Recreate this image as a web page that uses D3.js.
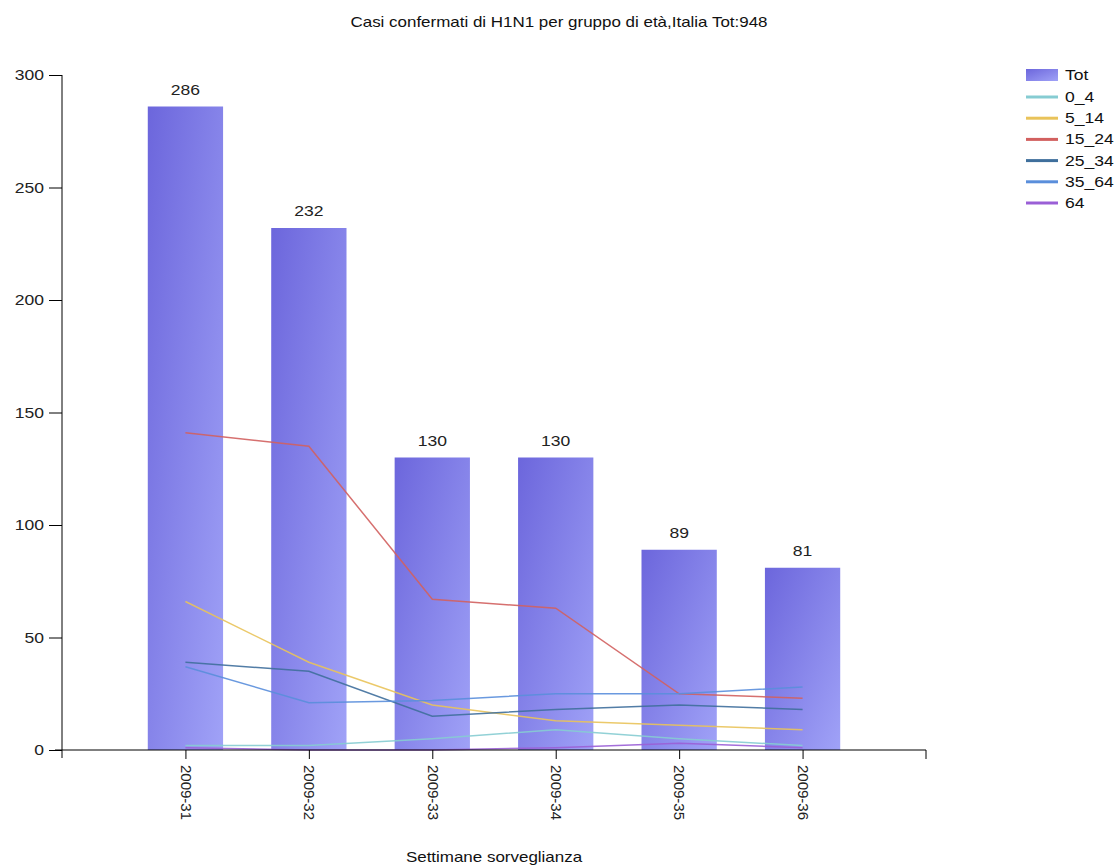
<!DOCTYPE html>
<html><head><meta charset="utf-8">
<script src="https://cdn.jsdelivr.net/npm/d3@7/dist/d3.min.js"></script>
<style>body{margin:0;background:#fff}svg{display:block;font-family:"Liberation Sans",Arial,sans-serif}</style>
</head><body>
<script>
const categories = ["2009-31","2009-32","2009-33","2009-34","2009-35","2009-36"];
const tot    = [286, 232, 130, 130, 89, 81];
const s0_4   = [2, 2, 5, 9, 5, 2];
const s5_14  = [66, 39, 20, 13, 11, 9];
const s15_24 = [141, 135, 67, 63, 25, 23];
const s25_34 = [39, 35, 15, 18, 20, 18];
const s35_64 = [37, 21, 22, 25, 25, 28];
const s64    = [1, 0, 0, 1, 3, 1];
const yTicks = [0, 50, 100, 150, 200, 250, 300];
const seriesNames = ["0_4","5_14","15_24","25_34","35_64","64"];
const seriesValues = [s0_4, s5_14, s15_24, s25_34, s35_64, s64];
const seriesColors = ["#86ccd2","#e9c35a","#d2605f","#3f6f9c","#5a8edb","#9a5fd6"];

const W = 1118, H = 867, SX = 1.17;
const svg = d3.select("body").append("svg").attr("width", W).attr("height", H);
const defs = svg.append("defs");
const grad = defs.append("linearGradient").attr("id","barGrad")
  .attr("x1",0).attr("y1",0).attr("x2",1).attr("y2",1);
grad.append("stop").attr("offset","0%").attr("stop-color","#6c66dc");
grad.append("stop").attr("offset","100%").attr("stop-color","#a0a2f7");

// horizontally stretched text helper
function stext(parent, tx, ty, str, size, anchor, fill) {
  const g = parent.append("g").attr("transform", `translate(${tx},${ty}) scale(${SX},1)`);
  g.append("text").attr("x",0).attr("y",0).attr("text-anchor", anchor || "start")
    .attr("font-size", size).attr("fill", fill || "#111").text(str);
  return g;
}

const x0 = 62, x1 = 926, yTop = 75, yBot = 750;
const x = d3.scalePoint().domain(categories).range([x0, x1]).padding(1);
const y = d3.scaleLinear().domain([0, 300]).range([yBot, yTop]);
const barW = x.step() * 0.61;

stext(svg, 559, 27, "Casi confermati di H1N1 per gruppo di età,Italia Tot:948", 14.5, "middle");

// bars
svg.append("g").selectAll("rect").data(categories).join("rect")
  .attr("x", d => x(d) - barW/2).attr("width", barW)
  .attr("y", (d,i) => y(tot[i])).attr("height", (d,i) => y(0) - y(tot[i]))
  .attr("fill","url(#barGrad)");
const vl = svg.append("g");
categories.forEach((c,i) => stext(vl, x(c), y(tot[i]) - 12, tot[i], 15, "middle", "#222"));

// lines
const line = d3.line().x((v,i) => x(categories[i])).y(v => y(v));
svg.append("g").selectAll("path").data(seriesValues).join("path")
  .attr("d", d => line(d)).attr("fill","none")
  .attr("stroke", (d,i) => seriesColors[i]).attr("stroke-width", 1.5)
  .attr("stroke-opacity", 0.9);

// y axis
const yAxis = d3.axisLeft(y).tickValues(yTicks).tickSize(13).tickPadding(5);
const gy = svg.append("g").attr("transform", `translate(${x0},0)`).call(yAxis);
gy.select(".domain").remove();
gy.append("line").attr("x1",0).attr("x2",0).attr("y1",yTop).attr("y2",yBot+8).attr("stroke","#000");
gy.selectAll(".tick line").attr("stroke","#000");
gy.selectAll(".tick text").attr("font-size",15).attr("fill","#222")
  .attr("font-family","\"Liberation Sans\",Arial,sans-serif")
  .attr("transform", function(){ const xx = +d3.select(this).attr("x"); return `translate(${xx*(1-SX)},0) scale(${SX},1)`; });

// x axis
const xAxis = d3.axisBottom(x).tickSize(9).tickPadding(6);
const gx = svg.append("g").attr("transform", `translate(0,${yBot})`).call(xAxis);
gx.select(".domain").remove();
gx.append("line").attr("x1", x0-7).attr("x2", x1).attr("y1",0).attr("y2",0).attr("stroke","#000");
gx.append("line").attr("x1", x1).attr("x2", x1).attr("y1",0).attr("y2",9).attr("stroke","#000");
gx.selectAll(".tick line").attr("stroke","#000");
gx.selectAll(".tick text")
  .attr("font-size",15).attr("fill","#222")
  .attr("font-family","\"Liberation Sans\",Arial,sans-serif")
  .attr("transform","rotate(90)")
  .attr("text-anchor","start").attr("dy","0.35em").attr("x", 15).attr("y", 0);

stext(svg, (x0+x1)/2, 862, "Settimane sorveglianza", 14.5, "middle");

// legend
const lg = svg.append("g").attr("transform","translate(1026,0)");
lg.append("rect").attr("x",0).attr("y",69).attr("width",32).attr("height",12).attr("fill","url(#barGrad)");
stext(lg, 39, 80, "Tot", 15, "start");
const lRows = lg.selectAll("g.row").data(seriesNames).join("g").attr("class","row")
  .attr("transform",(d,i) => `translate(0,${97 + i*21.2})`);
lRows.append("line").attr("x1",0).attr("x2",32).attr("y1",0).attr("y2",0)
  .attr("stroke",(d,i) => seriesColors[i]).attr("stroke-width",3);
lRows.each(function(d){ stext(d3.select(this), 39, 5, d, 15, "start"); });
</script>
</body></html>
